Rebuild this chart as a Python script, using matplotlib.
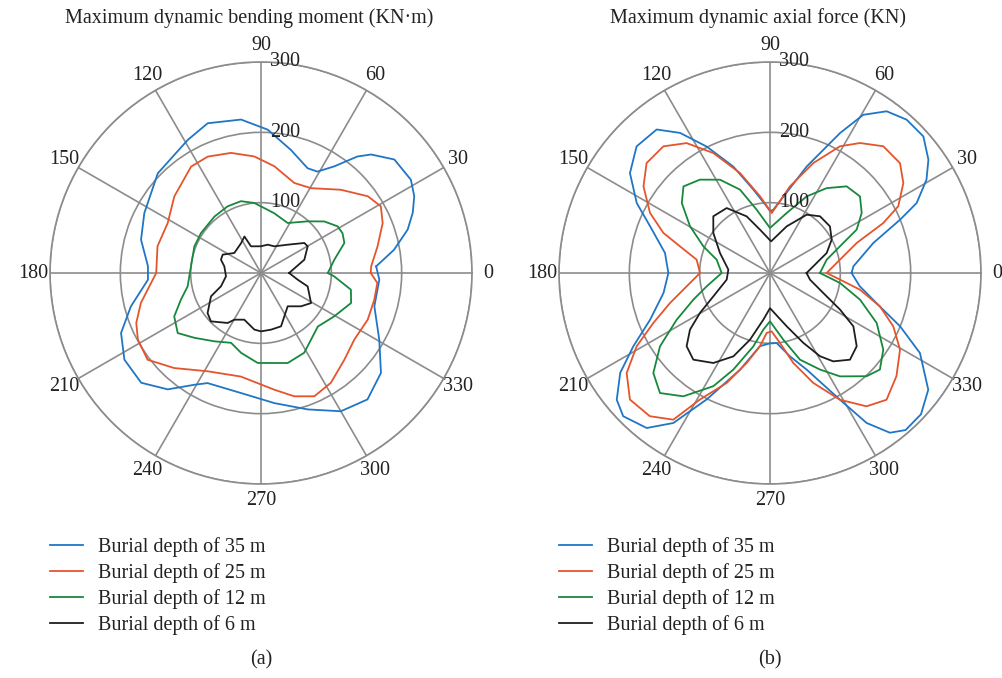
import numpy as np
import matplotlib
matplotlib.use("Agg")
import matplotlib.pyplot as plt
from matplotlib.lines import Line2D
import matplotlib.transforms as mtransforms

plt.rcParams['font.family'] = ['Liberation Serif', 'DejaVu Serif']

# ---------------- data (angle in degrees, value) ----------------
series_labels = ["Burial depth of 35 m", "Burial depth of 25 m",
                 "Burial depth of 12 m", "Burial depth of 6 m"]
series_colors = ["#1f76c6", "#e6542c", "#17883c", "#1e1e1e"]

# (a) bending moment
bm_theta_35 = [3.3, 9.9, 16.5, 21.6, 26.6, 31.9, 40.4, 47.1, 50.4, 55.5, 60.9, 66, 76.3, 87.3, 97.4,
               109.6, 118.8, 136, 152.8, 164.5, 176.6, 183.4, 194.4, 203.2, 212.4, 222.5, 231.3,
               239.2, 244.1, 260.5, 275.9, 288.9, 300, 310.1, 320.2, 330.6, 343.6, 356.8]
bm_r_35 = [164, 192, 217.5, 232, 243.7, 251, 249, 230, 215, 184, 165, 163, 180, 204, 220,
           226, 216, 204, 186.5, 177, 161, 161, 191, 216.5, 230, 231, 212,
           185, 174, 173, 186, 205, 227, 235, 222, 193, 168, 168.5]

bm_theta_25 = [0, 3.5, 12.9, 22.3, 29.1, 35.7, 46.2, 59.5, 69.7, 82.9, 93.3, 104, 114.6, 123.3,
               138.5, 151.8, 165.5, 180, 188.4, 194, 201.8, 208.4, 217.4, 227.6, 241.5, 259,
               276.5, 285.1, 293.4, 302.5, 313.9, 324.5, 336.4, 346.8, 355.1]
bm_r_25 = [156, 157, 170, 187, 195, 187, 164, 140, 136.5, 153, 166, 176, 182, 181,
           164.5, 150.5, 152, 149, 163, 176, 191, 199, 203, 183, 159, 150,
           167, 181.6, 191, 185, 171, 163, 165.6, 165.5, 166]

bm_theta_12 = [0, 10.3, 19.8, 26.1, 31.3, 39.2, 47.9, 61.9, 77.5, 95.4, 105.6, 116.6, 129.5,
               146.3, 158.2, 174.6, 190.3, 198.4, 206.6, 215.8, 224.3, 235.7, 246.8, 256,
               267.9, 286.5, 298.4, 306.9, 316.7, 329.4, 341.6, 349.5, 357.4]
bm_r_12 = [95, 106, 126, 129, 127.6, 116, 99, 80.6, 87, 100, 106, 106, 104,
           102.5, 102, 100, 106, 120, 138, 146, 132, 117.6, 108, 117,
           128, 133.5, 129, 118.5, 111, 121, 135, 130, 104]

bm_theta_6 = [0, 17.1, 29.7, 34.7, 46.7, 63.4, 76.8, 90, 110.6, 114.4, 123.7, 143.1, 154.4,
              161.6, 169.7, 185.4, 198.4, 205, 216.9, 224, 236.3, 240.3, 250.3, 263.3, 270,
              280, 290.6, 298.3, 308.7, 320.2, 329, 344, 349.7]
bm_r_6 = [40, 64.5, 76.4, 75, 55.3, 42.4, 41.4, 38, 40.5, 57, 51, 47.4, 60.4,
          60, 53, 50, 60, 78.4, 95, 99, 85.4, 76.4, 70.5, 81, 83,
          81.8, 81, 70, 60.7, 74, 83, 69, 53]

# (b) axial force
af_theta_35 = [0, 4.6, 16.2, 22.3, 25.5, 30.8, 35.6, 41.7, 48.3, 54.2, 59.5, 63.4, 71, 87, 90,
               92.9, 101.3, 109, 116.6, 122.7, 128.3, 136.5, 144.5, 152.3, 158.7, 169.2, 180,
               190.6, 201.3, 208.2, 213.7, 219.6, 224.3, 231.5, 237.2, 243.4, 252.8, 262.2, 270,
               275.4, 283.5, 290.8, 298.9, 302.8, 306.9, 310.8, 316.9, 323.6, 331.9, 337.7,
               343.1, 351.6]
af_r_35 = [116, 119, 153, 200, 231, 259, 277, 292, 292, 283.5, 261, 222.6, 160, 90, 88,
           95, 121, 160, 201, 236.7, 260, 261.5, 244.6, 214, 183, 152, 144.5,
           154, 183, 220.5, 256, 282.8, 291.6, 281.6, 253.7, 201, 144, 105, 100,
           100, 121.9, 147, 205.8, 253.7, 284, 295, 294, 279.6, 241.7, 200,
           163, 129]

af_theta_25 = [0, 3.2, 19.1, 23.8, 27.5, 34, 40.2, 48.2, 55.3, 61.1, 68.5, 77, 88.4, 97.4, 106.7,
               115.3, 122.7, 130.1, 138.3, 145.6, 153.4, 159.4, 163.5, 169.7, 180, 189.1, 196.7,
               203.2, 208.8, 214.9, 222.1, 230, 236.6, 241, 248.5, 255.5, 262.2, 266.8, 271.6,
               278.1, 284.5, 291.5, 298.9, 305.9, 312.6, 320.8, 329.5, 336.6, 343.1, 349.5, 354.6]
af_r_25 = [80.6, 85.4, 130.4, 176, 205.6, 228.7, 242, 241.7, 224.8, 205.8, 168, 126.5, 85.3, 110, 148.4,
           188.7, 219.5, 235.4, 235, 218, 190.8, 162, 133.5, 106, 99.5, 120, 148.4,
           180.5, 216.4, 248.5, 268.4, 265.8, 249.8, 205.8, 168, 132, 105, 85.4, 83,
           100.5, 132, 168, 205.8, 234, 244.8, 232, 214.6, 191, 163.4, 130, 100]

af_theta_12 = [0, 13.2, 20.9, 26.6, 33.2, 40.4, 48.5, 56.3, 64.4, 74.5, 90, 101.9, 109.8, 118.2,
               126.9, 135, 141.6, 149.7, 158.2, 166, 180, 191.9, 199.2, 206.6, 213.7, 220.6,
               227.5, 234.9, 243.4, 249.2, 257.2, 263.3, 270, 281.3, 289.1, 297.4, 304.1, 313.1,
               318.7, 325.9, 334.9, 343.5, 351.9]
af_r_12 = [71, 82.8, 106.5, 137.8, 155.8, 168, 164.5, 145, 120.8, 88.5, 64, 92, 126, 150.5,
           166, 174, 160, 131.7, 102, 78.2, 68.7, 92, 115.4, 148.4, 188, 218.5,
           231.5, 214.3, 180, 147, 107, 81, 68.7, 96.7, 130.4, 154.7, 177.5, 201,
           208, 194.5, 167.5, 133.5, 100.5]

af_theta_6 = [0, 12.1, 19.4, 28.4, 37.9, 48.6, 57.8, 70.3, 88, 103, 112.4, 123.7, 135, 144.8,
              158.2, 175.4, 188.7, 202.4, 209.7, 215.3, 221.3, 228.5, 237.8, 246.3, 253.3,
              261.9, 270, 287.4, 295.5, 301, 305.6, 312.7, 319.8, 327.4, 332.4, 339.4, 350.5]
af_r_6 = [52, 67.8, 85.4, 99.7, 108, 107.5, 98, 70.5, 45, 63.2, 87.1, 111, 114, 98.6,
          76.6, 59.4, 62.3, 87.1, 114.6, 139.4, 157.8, 164.5, 151.2, 129.4, 99,
          67, 50, 79.4, 110, 138, 154.5, 167.7, 161.4, 140.7, 112.4, 81, 57.7]

panel_titles = ["Maximum dynamic bending moment (KN\u00b7m)", "Maximum dynamic axial force (KN)"]
panel_tags = ["(a)", "(b)"]
angle_ticks = list(range(0, 360, 30))
radial_ticks = [100, 200, 300]
r_max = 300

panels = [
    [(bm_theta_35, bm_r_35), (bm_theta_25, bm_r_25), (bm_theta_12, bm_r_12), (bm_theta_6, bm_r_6)],
    [(af_theta_35, af_r_35), (af_theta_25, af_r_25), (af_theta_12, af_r_12), (af_theta_6, af_r_6)],
]

# ---------------- figure ----------------
W, H = 1002, 678
fig = plt.figure(figsize=(W / 100, H / 100), dpi=100)
fs = 14.5
grid_c = "#8c8c8c"

centers_x = [261, 770]
cy = 273
R = 211
for i, cx in enumerate(centers_x):
    ax = fig.add_axes([(cx - R) / W, 1 - (cy + R) / H, 2 * R / W, 2 * R / H], projection='polar')
    for (th, rr), col in zip(panels[i], series_colors):
        t = np.deg2rad(list(th) + [th[0]])
        v = list(rr) + [rr[0]]
        ax.plot(t, v, color=col, lw=1.3)
    ax.set_ylim(0, r_max)
    ax.set_yticks(radial_ticks)
    ax.set_yticklabels([])
    ax.set_thetagrids(angle_ticks, [str(a) for a in angle_ticks])
    ax.tick_params(axis='x', pad=5, size=0, labelsize=fs, colors="#222222")
    ax.grid(True, color=grid_c, lw=1.2)
    ax.spines['polar'].set_color(grid_c)
    ax.spines['polar'].set_linewidth(1.2)
    trans = mtransforms.offset_copy(ax.transData, fig=fig, x=9, y=0, units='dots')
    for rv in radial_ticks:
        ax.text(np.pi / 2, rv, str(rv), transform=trans, ha='left', va='center',
                fontsize=fs, color="#222222")
    fig.text(cx / W - 12 / W, 1 - 18 / H, panel_titles[i], ha='center', va='center',
             fontsize=fs, color="#222222")
    fig.text(cx / W, 1 - 660 / H, panel_tags[i], ha='center', va='center',
             fontsize=fs, color="#222222")
    handles = [Line2D([], [], color=c, lw=1.3) for c in series_colors]
    fig.legend(handles, series_labels, loc='upper left',
               bbox_to_anchor=((cx - 211) / W, 1 - 537 / H),
               frameon=False, fontsize=fs, handlelength=1.65, handletextpad=0.75,
               labelspacing=0.3, borderpad=0, borderaxespad=0, labelcolor="#222222")

fig.savefig("out.png", dpi=100)
